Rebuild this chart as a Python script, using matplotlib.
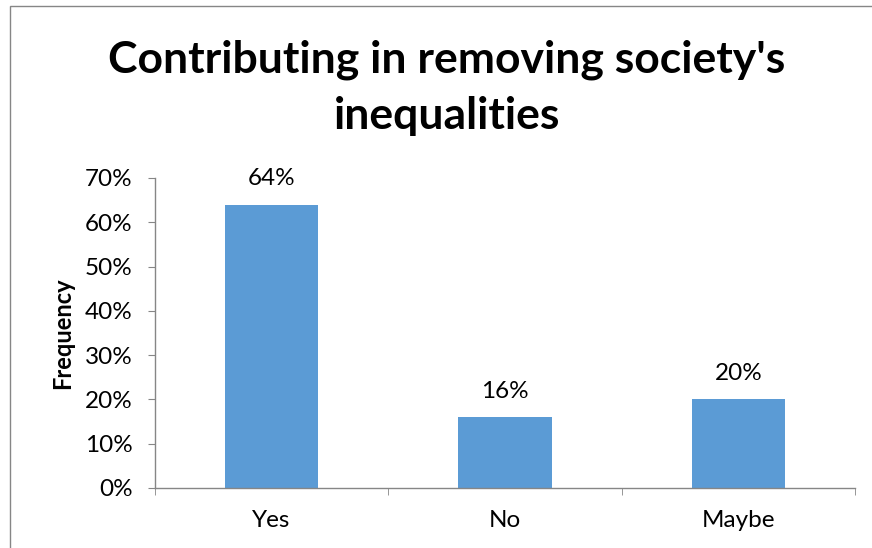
import numpy as np
import matplotlib
matplotlib.use('Agg')
import matplotlib.pyplot as plt
from matplotlib.patches import Rectangle

plt.rcParams['font.family'] = ['Lato', 'DejaVu Sans']

categories = ['Yes', 'No', 'Maybe']
values = [64, 16, 20]
yticks = [0, 10, 20, 30, 40, 50, 60, 70]

W, H = 872, 548
fig = plt.figure(figsize=(W / 100, H / 100), dpi=100)
# axes in pixel units: x 155..855, y 178..488
ax = fig.add_axes([155 / W, 1 - 488 / H, 700 / W, 310 / H])

x = np.arange(len(categories))
ax.bar(x, values, width=0.4, color='#5b9bd5')
for xi, v in zip(x, values):
    ax.text(xi, v + 3.5, f'{v}%', ha='center', va='bottom', fontsize=17.5)

ax.set_xlim(-0.5, 2.5)
ax.set_ylim(0, 70)
ax.set_yticks(yticks)
ax.set_yticklabels([f'{t}%' for t in yticks], fontsize=17.5)
ax.set_xticks(x)
ax.set_xticklabels(categories, fontsize=17.5)
ax.set_xticks([-0.5, 0.5, 1.5, 2.5], minor=True)
ax.tick_params(axis='x', which='major', length=0, pad=16)
ax.tick_params(axis='x', which='minor', length=5, color='#868686', direction='out')
ax.tick_params(axis='y', length=5, color='#868686', direction='out', pad=11)

for s in ['top', 'right']:
    ax.spines[s].set_visible(False)
for s in ['left', 'bottom']:
    ax.spines[s].set_color('#868686')
    ax.spines[s].set_linewidth(1)

ax.set_ylabel('Frequency', fontsize=17, fontweight='bold', labelpad=8)

fig.text(447 / W, 1 - 88 / H, "Contributing in removing society's\ninequalities",
         ha='center', va='center', fontsize=32, fontweight='bold', linespacing=1.5)

# chart border
fig.patches.append(Rectangle((10 / W, -0.1), 2, 1 - 6 / H + 0.1, transform=fig.transFigure,
                             fill=False, edgecolor='#868686', linewidth=1))

fig.savefig('out.png', dpi=100)
